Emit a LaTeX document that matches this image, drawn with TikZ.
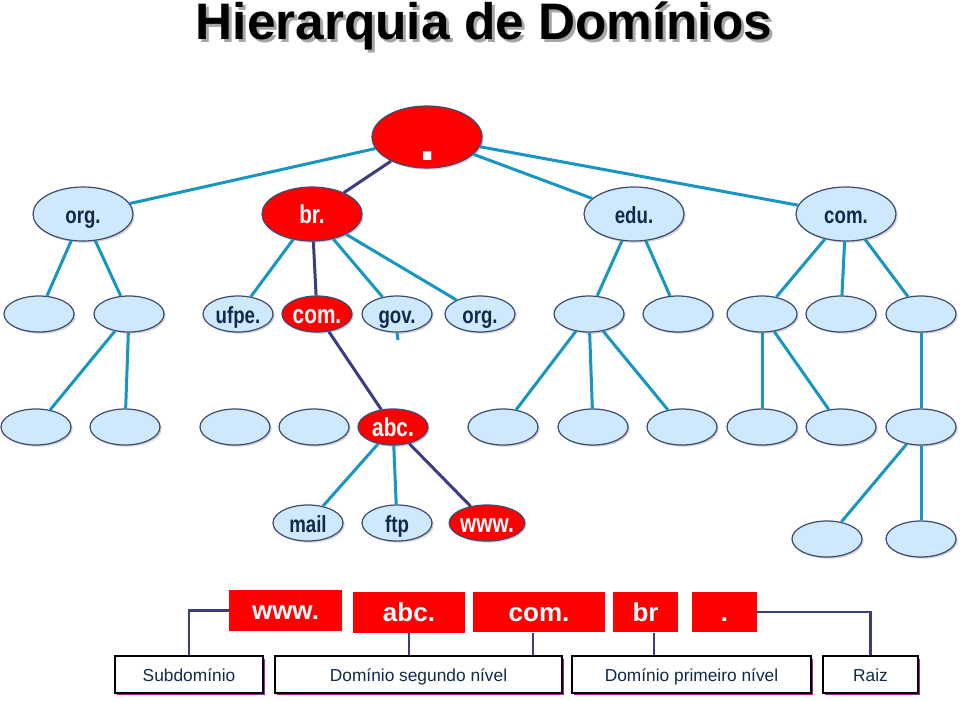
\documentclass[tikz,border=0pt]{standalone}
\usepackage{fontspec}
\setmainfont{Liberation Sans}
\newfontfamily\nar[FakeStretch=0.8]{Liberation Sans}
\usetikzlibrary{shapes.geometric,shadows}
\definecolor{tealline}{HTML}{1696C0}
\definecolor{darkline}{HTML}{3C3C82}
\definecolor{lblue}{HTML}{CDE9FB}
\definecolor{txtb}{HTML}{0F2A4A}
\definecolor{redf}{HTML}{FF0000}
\definecolor{ellborder}{HTML}{3F4A72}
\definecolor{shadowpink}{HTML}{B0209A}
\tikzset{
  ell/.style={ellipse, draw=ellborder, line width=0.9pt, inner sep=0pt,
    text height=14.5pt, text depth=0pt,
    drop shadow={shadow xshift=1.3pt, shadow yshift=-1.3pt, opacity=0.35}},
  bnode/.style={ell, fill=lblue, text=txtb, font=\nar\bfseries\fontsize{17.5}{19}\selectfont},
  rnode/.style={ell, fill=redf, text=white, font=\nar\bfseries\fontsize{19.5}{22}\selectfont},
  bigsz/.style={minimum width=75pt, minimum height=40.5pt},
  smallsz/.style={minimum width=52.5pt, minimum height=27pt},
  tl/.style={draw=tealline, line width=2.25pt},
  dl/.style={draw=darkline, line width=2.25pt},
  rbox/.style={rectangle, fill=redf, text=white, inner sep=0pt,
    font=\bfseries\fontsize{19.5}{22}\selectfont, text height=14pt, text depth=0pt,
    minimum height=30.5pt},
  lbox/.style={rectangle, draw=black, line width=1.6pt, fill=white, text=txtb,
    inner sep=0pt, minimum height=27.5pt, font=\fontsize{13}{15}\selectfont,
    text height=11.2pt, text depth=0pt,
    drop shadow={shadow xshift=1.8pt, shadow yshift=-1.8pt, fill=shadowpink, opacity=1}},
  bl/.style={draw=darkline, line width=1.9pt}
}
\begin{document}
\begin{tikzpicture}[x=0.75pt,y=-0.75pt]
\useasboundingbox (0,0) rectangle (960,700);
% title
\node[anchor=base, text=black!35, font=\bfseries\fontsize{38.5}{40}\selectfont] (tshadow) at (487,42) {Hierarquia de Domínios};
\node[anchor=base, text=black, font=\bfseries\fontsize{38.5}{40}\selectfont] (title) at (484,39) {Hierarquia de Domínios};
% root
\node[ell, fill=redf, minimum width=82.5pt, minimum height=46.5pt] (root) at (427,137) {};
\node[text=white, inner sep=0pt, font=\bfseries\fontsize{44}{44}\selectfont] (rootdot) at (428,156) {.};
% level 1
\node[bnode,bigsz] (org1) at (83,214) {org.};
\node[rnode,bigsz] (br) at (312,214) {br.};
\node[bnode,bigsz] (edu) at (634,214) {edu.};
\node[bnode,bigsz] (com1) at (846,214) {com.};
% level 2
\node[bnode,smallsz] (a1) at (39,314) {};
\node[bnode,smallsz] (a2) at (129,314) {};
\node[bnode,smallsz] (ufpe) at (238,314) {ufpe.};
\node[rnode,smallsz] (com2) at (317,314) {com.};
\node[bnode,smallsz] (gov) at (397,314) {gov.};
\node[bnode,smallsz] (org2) at (480,314) {org.};
\node[bnode,smallsz] (e1) at (589,314) {};
\node[bnode,smallsz] (e2) at (678,314) {};
\node[bnode,smallsz] (c1) at (762,314) {};
\node[bnode,smallsz] (c2) at (841,314) {};
\node[bnode,smallsz] (c3) at (921,314) {};
% level 3
\node[bnode,smallsz] (b1) at (36,427) {};
\node[bnode,smallsz] (b2) at (125,427) {};
\node[bnode,smallsz] (b3) at (235,427) {};
\node[bnode,smallsz] (b4) at (314,427) {};
\node[rnode,smallsz] (abc) at (393,427) {abc.};
\node[bnode,smallsz] (b6) at (503,427) {};
\node[bnode,smallsz] (b7) at (593,427) {};
\node[bnode,smallsz] (b8) at (682,427) {};
\node[bnode,smallsz] (b9) at (762,427) {};
\node[bnode,smallsz] (b10) at (841,427) {};
\node[bnode,smallsz] (b11) at (921,427) {};
% level 4
\node[bnode,smallsz] (mail) at (308,523) {mail};
\node[bnode,smallsz] (ftp) at (397,523) {ftp};
\node[rnode,smallsz] (www) at (487,523) {www.};
\node[bnode,smallsz] (d1) at (827,539) {};
\node[bnode,smallsz] (d2) at (921,539) {};
\coordinate (govtick) at (398,340);
% edges
\draw[tl] (root) -- (org1);
\draw[dl] (root) -- (br);
\draw[tl] (root) -- (edu);
\draw[tl] (root) -- (com1);
\draw[tl] (org1) -- (a1);
\draw[tl] (org1) -- (a2);
\draw[tl] (br) -- (ufpe);
\draw[dl] (br) -- (com2);
\draw[tl] (br) -- (gov);
\draw[tl] (br) -- (org2);
\draw[tl] (gov.south) -- (govtick);
\draw[tl] (edu) -- (e1);
\draw[tl] (edu) -- (e2);
\draw[tl] (com1) -- (c1);
\draw[tl] (com1) -- (c2);
\draw[tl] (com1) -- (c3);
\draw[tl] (a2) -- (b1);
\draw[tl] (a2) -- (b2);
\draw[dl] (com2) -- (abc);
\draw[tl] (e1) -- (b6);
\draw[tl] (e1) -- (b7);
\draw[tl] (e1) -- (b8);
\draw[tl] (c1) -- (b9);
\draw[tl] (c1) -- (b10);
\draw[tl] (c3) -- (b11);
\draw[tl] (b11) -- (d1);
\draw[tl] (b11) -- (d2);
\draw[tl] (abc) -- (mail);
\draw[tl] (abc) -- (ftp);
\draw[dl] (abc) -- (www);
% bottom red boxes
\node[rbox, minimum width=84.75pt] (rw) at (285.5,610.5) {www.};
\node[rbox, minimum width=84pt] (ra) at (409,612.5) {abc.};
\node[rbox, minimum width=99pt] (rc) at (539,612) {com.};
\node[rbox, minimum width=48.75pt] (rb) at (645.5,612) {br};
\node[rbox, minimum width=48.75pt] (rd) at (724.5,612) {.};
% label boxes
\node[lbox, minimum width=111pt] (sub) at (189,674.5) {Subdomínio};
\node[lbox, minimum width=215.25pt] (seg) at (418.5,674.5) {Domínio segundo nível};
\node[lbox, minimum width=179.25pt] (pri) at (691.5,674.5) {Domínio primeiro nível};
\node[lbox, minimum width=71.25pt] (raiz) at (870.5,674.5) {Raiz};
% bottom connectors
\draw[bl] (rw.west) -| (sub.north);
\draw[bl] (ra.south) -- (ra.south |- seg.north);
\draw[bl] ([xshift=-4.5pt]rc.south) -- ([xshift=-4.5pt]rc.south |- seg.north);
\draw[bl] ([xshift=6.4pt]rb.south) -- ([xshift=6.4pt]rb.south |- pri.north);
\draw[bl] (rd.east) -| (raiz.north);
\end{tikzpicture}
\end{document}
